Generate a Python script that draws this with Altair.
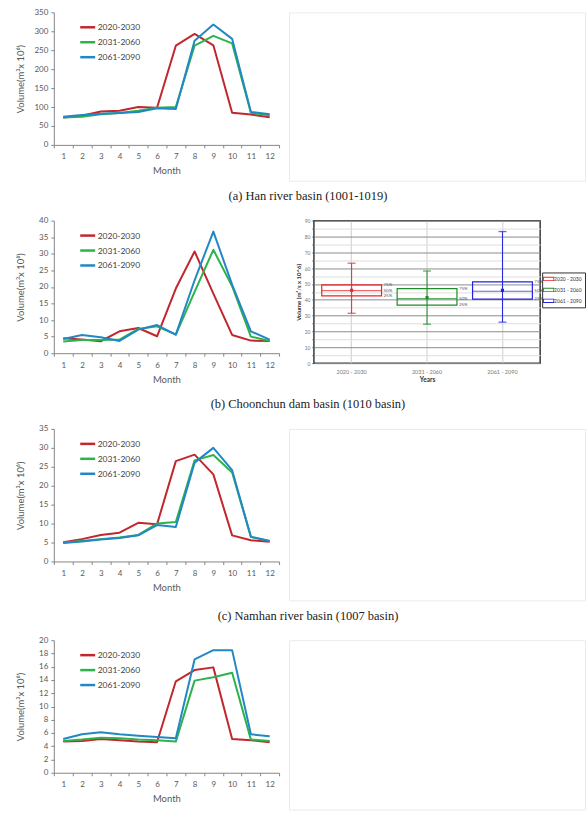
import altair as alt
import pandas as pd

# ---------------- data ----------------
months = list(range(1, 13))
periods = ["2020-2030", "2031-2060", "2061-2090"]
line_colors = ["#C1272D", "#2DB24C", "#2287C5"]

han_2020 = [72, 77, 88, 90, 100, 98, 262, 293, 263, 85, 80, 73]
han_2031 = [72, 74, 81, 84, 90, 98, 100, 262, 288, 268, 85, 78]
han_2061 = [74, 79, 82, 84, 87, 97, 95, 275, 318, 280, 87, 81]

chc_2020 = [4.5, 4.1, 3.6, 6.6, 7.6, 5.1, 19.5, 30.7, 18.0, 5.5, 3.8, 3.7]
chc_2031 = [3.5, 4.0, 4.0, 4.1, 7.3, 8.1, 5.6, 18.5, 31.2, 20.2, 5.0, 3.7]
chc_2061 = [4.3, 5.5, 4.8, 3.7, 7.1, 8.5, 5.6, 22.0, 36.7, 20.7, 6.6, 4.1]

nam_2020 = [5.1, 5.9, 7.0, 7.6, 10.2, 9.8, 26.5, 28.2, 23.0, 6.9, 5.6, 5.2]
nam_2031 = [5.0, 5.4, 5.9, 6.3, 7.0, 10.0, 10.4, 26.7, 28.1, 23.5, 6.5, 5.4]
nam_2061 = [4.9, 5.3, 5.8, 6.2, 6.9, 9.6, 9.1, 26.1, 30.0, 24.1, 6.5, 5.4]

d_2020 = [4.7, 4.8, 5.1, 4.9, 4.7, 4.6, 13.8, 15.5, 15.9, 5.1, 4.9, 4.6]
d_2031 = [4.8, 5.0, 5.3, 5.2, 5.0, 4.9, 4.7, 13.9, 14.4, 15.1, 5.0, 4.8]
d_2061 = [5.1, 5.8, 6.1, 5.8, 5.6, 5.4, 5.2, 17.1, 18.5, 18.5, 5.8, 5.5]

captions = [
    "(a)  Han  river  basin (1001-1019)",
    "(b)  Choonchun  dam  basin (1010  basin)",
    "(c)  Namhan  river  basin (1007  basin)",
]
caption_offsets = [15, 15, 18]

box_years = ["2020 - 2030", "2031 - 2060", "2061 - 2090"]
box_min = [31.5, 24.6, 25.9]
box_q1 = [42.5, 36.6, 40.4]
box_med = [45.8, 40.8, 45.4]
box_q3 = [49.4, 47.1, 51.3]
box_max = [63.1, 58.2, 83.1]
box_mean = [46.0, 41.4, 46.0]
box_colors = ["#E8262A", "#1E8C2A", "#2222DD"]
quart_labels = ["75%", "50%", "25%"]

AX_FONT = "Lato"
GRAY = "#595959"


def long_df(s1, s2, s3):
    rows = []
    for p, s in zip(periods, (s1, s2, s3)):
        for m, v in zip(months, s):
            rows.append({"month": m, "value": v, "period": p})
    return pd.DataFrame(rows)


def line_chart(df, ymax, ystep, caption=None, offset=15):
    props = dict(width=226, height=133)
    if caption:
        props["title"] = alt.TitleParams(
            caption, orient="bottom", anchor="middle", frame="group", dx=142,
            offset=offset, font="Liberation Serif", fontSize=12.5,
            fontWeight="normal", color="#222222")
    return alt.Chart(df).mark_line(strokeWidth=2, strokeJoin="round").encode(
        x=alt.X("month:O", bandPosition=0.5,
                scale=alt.Scale(type="band", paddingInner=0, paddingOuter=0),
                axis=alt.Axis(title="Month", labelAngle=0, tickBand="extent", grid=False,
                              domainColor="#868686", tickColor="#868686", tickSize=3,
                              labelFont=AX_FONT, labelFontSize=8, labelColor=GRAY,
                              labelPadding=5, titleFont=AX_FONT, titleFontSize=9.5,
                              titleFontWeight="normal", titleColor=GRAY,
                              titleY=26, titleBaseline="middle")),
        y=alt.Y("value:Q", scale=alt.Scale(domain=[0, ymax], nice=False, zero=True),
                axis=alt.Axis(values=list(range(0, ymax + 1, ystep)), grid=False,
                              domainColor="#868686", tickColor="#868686", tickSize=3,
                              labelFont=AX_FONT, labelFontSize=8, labelColor=GRAY,
                              labelPadding=3, title="Volume(m³x 10⁶)",
                              titleFont=AX_FONT, titleFontSize=9.5,
                              titleFontWeight="normal", titleColor=GRAY,
                              titleX=-33, titleY=66.5, titleAngle=270,
                              titleAlign="center", titleBaseline="middle")),
        color=alt.Color("period:N", scale=alt.Scale(domain=periods, range=line_colors),
                        legend=alt.Legend(title=None, orient="none", legendX=25, legendY=6,
                                          symbolType="stroke", symbolStrokeWidth=2.5,
                                          symbolSize=225, labelFont=AX_FONT,
                                          labelFontSize=8.5, labelColor="#404040",
                                          rowPadding=1, labelOffset=1, padding=0)),
    ).properties(**props)


def empty_box(h):
    return alt.Chart(pd.DataFrame({"t": [""]})).mark_text().encode(
        text="t:N"
    ).properties(width=297, height=h,
                 view=alt.ViewBackground(stroke="#ebebeb", strokeWidth=1, fill="white"))


# ---------------- box plot ----------------
box_df = pd.DataFrame({"year": box_years, "lo": box_min, "q1": box_q1, "med": box_med,
                       "q3": box_q3, "hi": box_max, "mean": box_mean})
lab_rows = []
for y, a, b, c in zip(box_years, box_q3, box_med, box_q1):
    for lab, v in zip(quart_labels, (a, b, c)):
        lab_rows.append({"year": y, "lab": lab, "v": v})
lab_df = pd.DataFrame(lab_rows)

xb = alt.X("year:N", sort=box_years,
           scale=alt.Scale(type="band", paddingInner=0, paddingOuter=0),
           axis=alt.Axis(title="Years", labelAngle=0, bandPosition=0.5, grid=True,
                         gridColor="#cfcfcf", ticks=False, domain=False,
                         labelFont=AX_FONT, labelFontSize=5.5, labelColor="#777777",
                         labelPadding=6, titleFont=AX_FONT, titleFontSize=6.5,
                         titleFontWeight="bold", titleColor="#333333", titlePadding=2))
yscale = alt.Scale(domain=[0, 90], nice=False, zero=True)
yaxis = alt.Axis(values=list(range(0, 91, 5)),
                 labelExpr="datum.value % 10 === 0 ? datum.label : ''",
                 grid=True,
                 gridColor=alt.condition("datum.value % 10 === 0",
                                         alt.value("#8c8c8c"), alt.value("#dedede")),
                 domain=False, tickSize=2, tickColor="#555555",
                 labelFont=AX_FONT, labelFontSize=5, labelColor="#777777", labelPadding=2,
                 title="Volume (m³/s x 10^6)", titleFont=AX_FONT, titleFontSize=6,
                 titleFontWeight="bold", titleColor="#333333", titlePadding=3)


def YB(field):
    return alt.Y(field, type="quantitative", scale=yscale, axis=yaxis)


# hollow rectangle symbol (outer path minus inner path)
HOLLOW_RECT = "M-1.6,-0.6H1.6V0.6H-1.6Z M-1.36,-0.36V0.36H1.36V-0.36Z"
box_cscale = alt.Scale(domain=box_years, range=box_colors)
box_legend = alt.Legend(title=None, orient="none", legendX=229, legendY=52,
                        fillColor="white", strokeColor="#333333",
                        padding=3, labelFont=AX_FONT, labelFontSize=5,
                        labelColor="#333333",
                        symbolType=HOLLOW_RECT,
                        symbolSize=49, symbolStrokeWidth=0,
                        rowPadding=4, labelOffset=2, labelLimit=40)
cb = alt.Color("year:N", scale=box_cscale, legend=None)
base = alt.Chart(box_df)
box = base.mark_bar(size=60, filled=False, strokeWidth=1.2).encode(
    x=xb, y=YB("q1"), y2="q3:Q",
    color=alt.Color("year:N", scale=box_cscale, legend=box_legend))
whisker = base.mark_rule(strokeWidth=1).encode(x=xb, y=YB("lo"), y2="hi:Q", color=cb)
cap_lo = base.mark_tick(size=8, thickness=1.3).encode(x=xb, y=YB("lo"), color=cb)
cap_hi = base.mark_tick(size=8, thickness=1.3).encode(x=xb, y=YB("hi"), color=cb)
med = base.mark_tick(size=60, thickness=1.2).encode(x=xb, y=YB("med"), color=cb)
mean = base.mark_point(shape="square", filled=True, size=10, opacity=1).encode(
    x=xb, y=YB("mean"), color=cb)
qlab = alt.Chart(lab_df).mark_text(align="left", baseline="middle", dx=32, fontSize=4.5,
                                   font=AX_FONT, color="#555555").encode(
    x=xb, y=YB("v"), text="lab:N")

boxplot = alt.layer(box, whisker, cap_lo, cap_hi, med, mean, qlab).properties(
    width=227, height=143,
    view=alt.ViewBackground(stroke="#3a3a3a", strokeWidth=1.5, fill="white"))

# ---------------- layout ----------------
chart_a = line_chart(long_df(han_2020, han_2031, han_2061), 350, 50, captions[0], caption_offsets[0])
chart_b = line_chart(long_df(chc_2020, chc_2031, chc_2061), 40, 5, captions[1], caption_offsets[1])
chart_c = line_chart(long_df(nam_2020, nam_2031, nam_2061), 35, 5, captions[2], caption_offsets[2])
chart_d = line_chart(long_df(d_2020, d_2031, d_2061), 20, 2)


def indep(c):
    return c.resolve_scale(color="independent").resolve_legend(color="independent")


row_a = indep(alt.hconcat(chart_a, empty_box(169), spacing=10, bounds="flush"))
row_b = indep(alt.hconcat(chart_b, boxplot, spacing=35, bounds="flush"))
row_c = indep(alt.hconcat(chart_c, empty_box(172), spacing=10, bounds="flush"))
row_d = indep(alt.hconcat(chart_d, empty_box(170), spacing=10, bounds="flush"))

chart = indep(alt.vconcat(row_a, row_b, row_c, row_d, spacing=12)).properties(
    padding={"left": 15, "top": 6, "right": 0, "bottom": 0},
    background="white",
).configure_view(stroke="transparent")

chart.save("out.html", embed_options={"renderer": "svg", "actions": False})
